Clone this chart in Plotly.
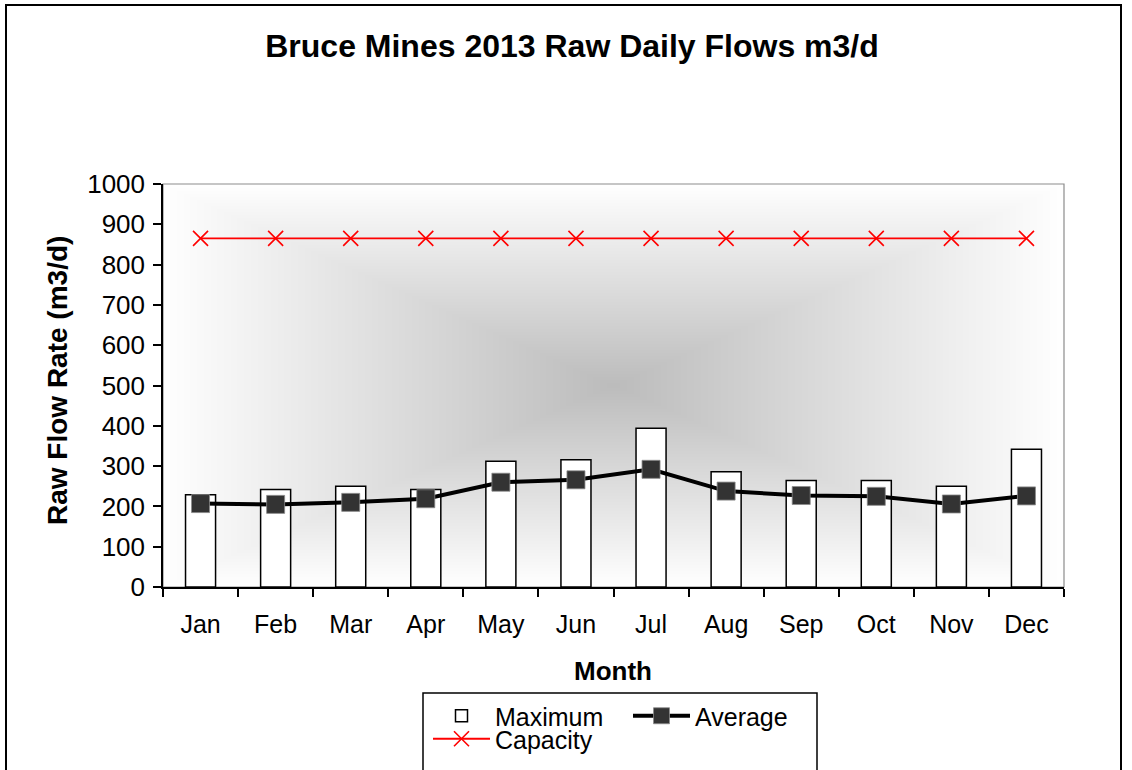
import base64
import struct
import zlib

import numpy as np
import plotly.graph_objects as go

# ---------------- data ----------------
months = ["Jan", "Feb", "Mar", "Apr", "May", "Jun",
          "Jul", "Aug", "Sep", "Oct", "Nov", "Dec"]
maximum = [229, 242, 250, 242, 312, 316, 394, 286, 264, 264, 250, 342]
average = [207, 205, 210, 219, 260, 266, 292, 238, 227, 225, 206, 226]
capacity = [865] * 12
y_ticks = [0, 100, 200, 300, 400, 500, 600, 700, 800, 900, 1000]

FONT = "Arial, 'Liberation Sans', sans-serif"

# ---------------- figure geometry ----------------
W, H = 1132, 770
L, R, T, B = 163, 68, 184, 183
PW, PH = W - L - R, H - T - B


def px_x(x):
    return (x - L) / PW


def px_y(y):
    return (H - B - y) / PH


# ---------------- background gradient (rectangular "from center") ----------------
def gradient_png(w, h, dark=188, light=255):
    xs = np.abs(np.arange(w) - (w - 1) / 2) / ((w - 1) / 2)
    ys = np.abs(np.arange(h) - (h - 1) / 2) / ((h - 1) / 2)
    t = np.maximum(xs[None, :], ys[:, None])
    val = (dark + (light - dark) * t).clip(0, 255).astype(np.uint8)
    raw = b"".join(b"\x00" + row.tobytes() for row in val)

    def chunk(tag, data):
        c = struct.pack(">I", len(data)) + tag + data
        return c + struct.pack(">I", zlib.crc32(tag + data) & 0xFFFFFFFF)

    png = (b"\x89PNG\r\n\x1a\n"
           + chunk(b"IHDR", struct.pack(">IIBBBBB", w, h, 8, 0, 0, 0, 0))
           + chunk(b"IDAT", zlib.compress(raw, 9))
           + chunk(b"IEND", b""))
    return "data:image/png;base64," + base64.b64encode(png).decode()


bg_src = gradient_png(PW, PH)

# ---------------- traces ----------------
fig = go.Figure()
fig.add_trace(go.Bar(
    x=months, y=maximum, name="Maximum",
    marker=dict(color="white", line=dict(color="black", width=1.5)),
    legend="legend",
))
fig.add_trace(go.Scatter(
    x=months, y=average, name="Average", mode="lines+markers",
    line=dict(color="black", width=4),
    marker=dict(symbol="square", size=18, color="#333333",
                line=dict(color="#8a8a8a", width=0.8)),
    legend="legend",
))
fig.add_trace(go.Scatter(
    x=months, y=capacity, name="Capacity", mode="lines+markers",
    line=dict(color="#ff0000", width=1.8),
    marker=dict(symbol="x-thin", size=15, color="#ff0000",
                line=dict(color="#ff0000", width=1.6)),
    legend="legend2",
))

# ---------------- layout ----------------
axis_common = dict(showgrid=False, zeroline=False, ticklen=8, tickwidth=1.5,
                   tickcolor="black")

fig.update_layout(
    width=W, height=H,
    margin=dict(l=L, r=R, t=T, b=B, autoexpand=False),
    paper_bgcolor="white",
    plot_bgcolor="rgba(0,0,0,0)",
    font=dict(family=FONT, color="black", size=25),
    bargap=0.6,
    showlegend=True,
    hovermode=False,
    title=dict(text="<b>Bruce Mines 2013 Raw Daily Flows m3/d</b>",
               xref="container", yref="container",
               x=572 / W, xanchor="center", y=1 - 46 / H, yanchor="middle",
               font=dict(family=FONT, size=32, color="black")),
    xaxis=dict(type="category", categoryorder="array", categoryarray=months,
               range=[-0.5, 11.5], tickson="boundaries", ticks="outside",
               showline=True, linecolor="black", linewidth=1.5,
               ticklabelstandoff=14,
               tickfont=dict(family=FONT, size=25, color="black"),
               **axis_common),
    yaxis=dict(range=[0, 1000], tickvals=y_ticks, ticks="outside",
               showline=True, linecolor="black", linewidth=1.5,
               ticklabelstandoff=3,
               tickfont=dict(family=FONT, size=26, color="black"),
               **axis_common),
    xaxis2=dict(overlaying="x", anchor="y", side="bottom", range=[-0.5, 11.5],
                tickvals=[i - 0.5 for i in range(13)], ticks="inside",
                showticklabels=False, showline=False, **axis_common),
    yaxis2=dict(overlaying="y", anchor="x", side="left", range=[0, 1000],
                tickvals=y_ticks, ticks="inside",
                showticklabels=False, showline=False, **axis_common),
    legend=dict(orientation="h", x=px_x(428), xanchor="left",
                y=px_y(716), yanchor="middle",
                font=dict(family=FONT, size=25, color="black"),
                itemwidth=57, entrywidth=128, bgcolor="rgba(0,0,0,0)",
                borderwidth=0, traceorder="normal"),
    legend2=dict(orientation="h", x=px_x(428), xanchor="left",
                 y=px_y(739), yanchor="middle",
                 font=dict(family=FONT, size=25, color="black"),
                 itemwidth=57, bgcolor="rgba(0,0,0,0)", borderwidth=0),
    images=[dict(source=bg_src, xref="paper", yref="paper", x=0, y=1,
                 sizex=1, sizey=1, xanchor="left", yanchor="top",
                 sizing="stretch", layer="below")],
    shapes=[
        # plot-area border (grey)
        dict(type="rect", xref="paper", yref="paper", x0=0, x1=1, y0=0, y1=1,
             line=dict(color="#8c8c8c", width=1.2), layer="below"),
        # outer chart frame
        dict(type="rect", xref="paper", yref="paper",
             x0=px_x(6), x1=px_x(1121), y0=px_y(790), y1=px_y(5),
             line=dict(color="black", width=2)),
        # legend frame
        dict(type="rect", xref="paper", yref="paper",
             x0=px_x(423), x1=px_x(817), y0=px_y(790), y1=px_y(693),
             line=dict(color="black", width=1.5)),
    ],
    annotations=[
        dict(text="<b>Raw Flow Rate (m3/d)</b>", xref="paper", yref="paper",
             x=px_x(57), y=px_y(381), xanchor="center", yanchor="middle",
             textangle=-90, showarrow=False,
             font=dict(family=FONT, size=28, color="black")),
        dict(text="<b>Month</b>", xref="paper", yref="paper",
             x=px_x(613), y=px_y(671), xanchor="center", yanchor="middle",
             showarrow=False, font=dict(family=FONT, size=26, color="black")),
    ],
)

fig.write_html(
    "out.html",
    config={"displayModeBar": False, "staticPlot": False},
    post_script="document.body.style.margin='0';document.body.style.padding='0';",
)
